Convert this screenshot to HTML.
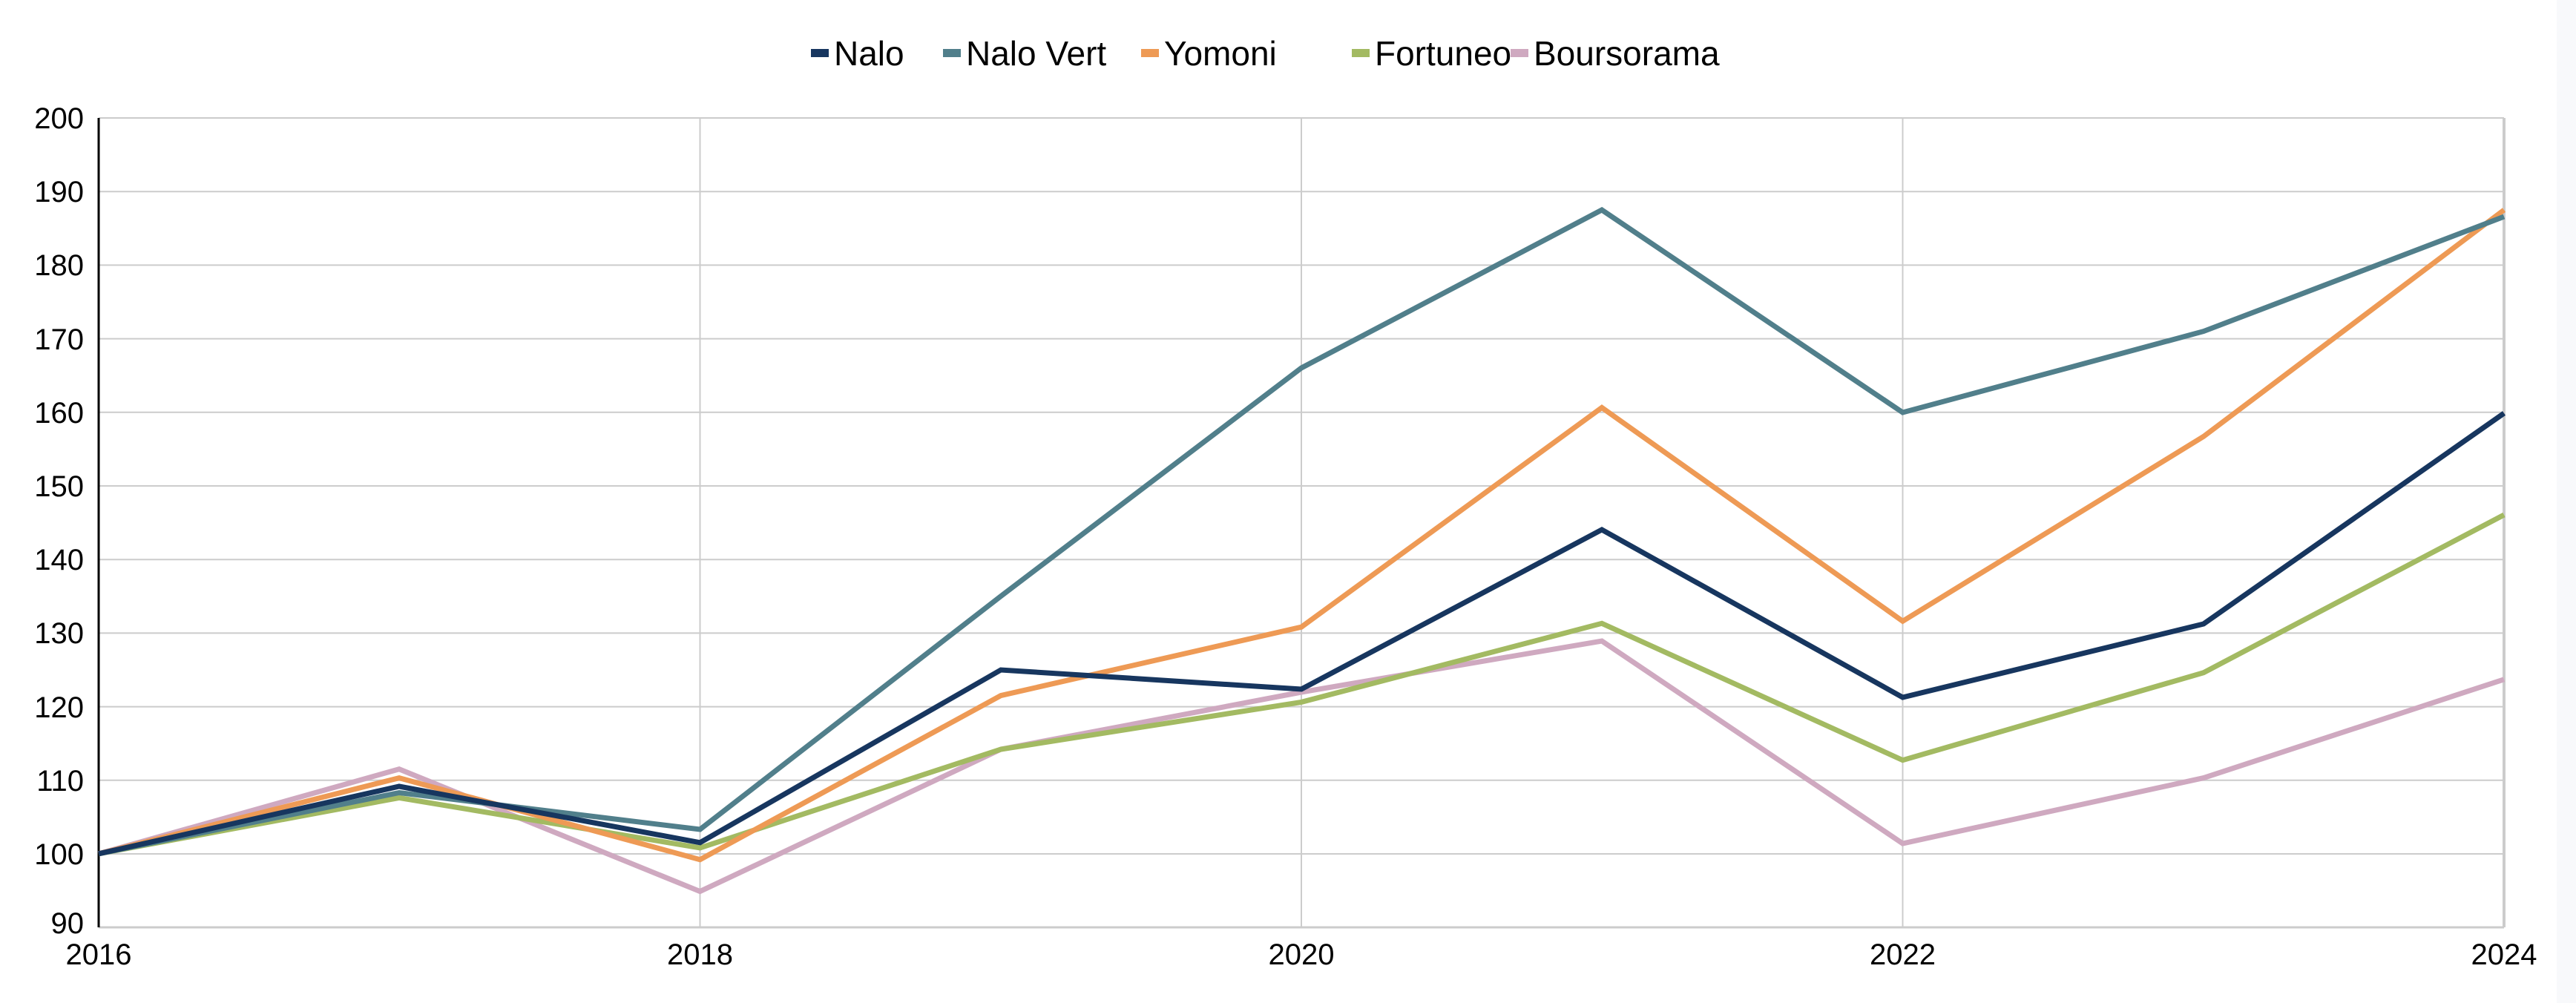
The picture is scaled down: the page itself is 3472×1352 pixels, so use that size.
<!DOCTYPE html>
<html><head><meta charset="utf-8"><style>
html,body{margin:0;padding:0;background:#fff;}
svg{display:block;}
text{font-family:"Liberation Sans",sans-serif;fill:#000;}
</style></head><body>
<svg width="3472" height="1352" viewBox="0 0 3472 1352" xmlns="http://www.w3.org/2000/svg">
<rect x="0" y="0" width="3472" height="1352" fill="#fff"/>
<rect x="3446" y="0" width="26" height="1352" fill="#f8f9fb"/>
<g stroke="#cccccc" stroke-width="2">
<line x1="133" y1="159" x2="3375" y2="159"/>
<line x1="133" y1="258.2" x2="3375" y2="258.2"/>
<line x1="133" y1="357.4" x2="3375" y2="357.4"/>
<line x1="133" y1="456.6" x2="3375" y2="456.6"/>
<line x1="133" y1="555.8" x2="3375" y2="555.8"/>
<line x1="133" y1="655" x2="3375" y2="655"/>
<line x1="133" y1="754.2" x2="3375" y2="754.2"/>
<line x1="133" y1="853.4" x2="3375" y2="853.4"/>
<line x1="133" y1="952.6" x2="3375" y2="952.6"/>
<line x1="133" y1="1051.8" x2="3375" y2="1051.8"/>
<line x1="133" y1="1151" x2="3375" y2="1151"/>
<line x1="133" y1="1250" x2="3375" y2="1250" stroke-width="3"/>
<line x1="943.5" y1="159" x2="943.5" y2="1250"/>
<line x1="1754" y1="159" x2="1754" y2="1250"/>
<line x1="2564.5" y1="159" x2="2564.5" y2="1250"/>
<line x1="3375" y1="159" x2="3375" y2="1250" stroke-width="4"/>
</g>
<line x1="133" y1="159" x2="133" y2="1250" stroke="#000" stroke-width="3"/>
<g font-size="40" text-anchor="end">
<text x="113" y="173">200</text><text x="113" y="272">190</text><text x="113" y="371">180</text>
<text x="113" y="471">170</text><text x="113" y="570">160</text><text x="113" y="669">150</text>
<text x="113" y="768">140</text><text x="113" y="867">130</text><text x="113" y="967">120</text>
<text x="113" y="1066">110</text><text x="113" y="1165">100</text><text x="113" y="1258">90</text>
</g>
<g font-size="40" text-anchor="middle">
<text x="133" y="1300">2016</text><text x="943.5" y="1300">2018</text><text x="1754" y="1300">2020</text>
<text x="2564.5" y="1300">2022</text><text x="3375" y="1300">2024</text>
</g>
<g fill="none" stroke-width="7" stroke-linejoin="miter">
<polyline stroke="#cfa9c0" points="133,1150.8 538,1036.7 943.5,1201.6 1349,1010 1754,933 2159,864 2564.5,1137 2970,1048.6 3375,915.8"/>
<polyline stroke="#a3ba62" points="133,1150.8 538,1075.4 943.5,1142.9 1349,1010 1754,946.4 2159,840.3 2564.5,1024.7 2970,906.7 3375,694"/>
<polyline stroke="#ee9a55" points="133,1150.8 538,1048.6 943.5,1158.7 1349,937.6 1754,845.2 2159,549.4 2564.5,837.3 2970,588.4 3375,283"/>
<polyline stroke="#517f8b" points="133,1150.8 538,1068.5 943.5,1118 1349,803.6 1754,496 2159,283 2564.5,556 2970,446.6 3375,292"/>
<polyline stroke="#17365f" points="133,1150.8 538,1060 943.5,1135.8 1349,903 1754,929 2159,714 2564.5,940 2970,841 3375,557"/>
</g>
<g font-size="46">
<rect x="1093" y="66" width="24" height="11" fill="#17365f"/><text x="1124" y="88">Nalo</text>
<rect x="1271" y="66" width="24" height="11" fill="#517f8b"/><text x="1302" y="88">Nalo Vert</text>
<rect x="1538" y="66" width="24" height="11" fill="#ee9a55"/><text x="1569" y="88">Yomoni</text>
<rect x="1822" y="66" width="24" height="11" fill="#a3ba62"/><text x="1853" y="88">Fortuneo</text>
<rect x="2036" y="66" width="24" height="11" fill="#cfa9c0"/><text x="2067" y="88">Boursorama</text>
</g>
</svg>
</body></html>
